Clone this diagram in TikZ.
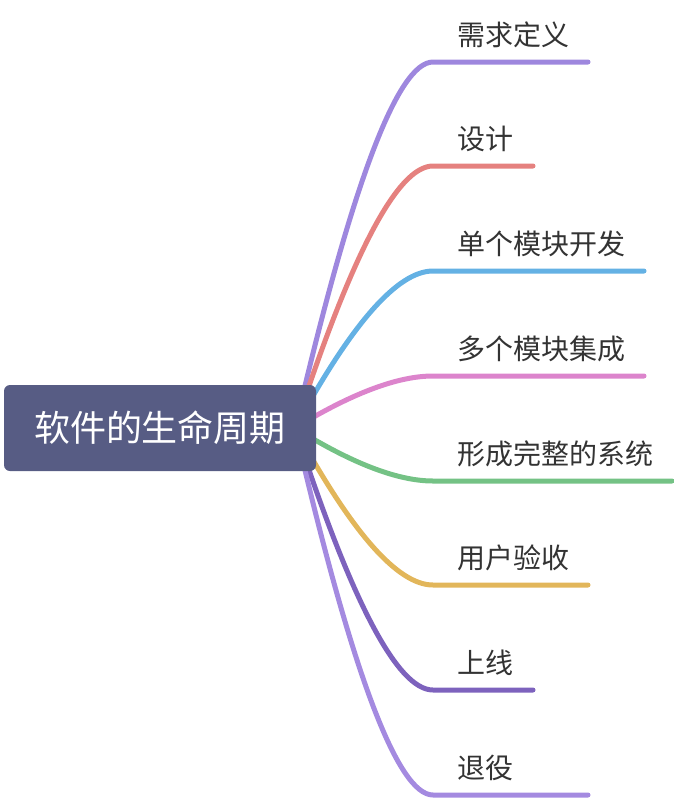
\documentclass[tikz,border=0pt]{standalone}
\usepackage{fontspec}
\newfontfamily\cjk{Noto Sans CJK SC}
\definecolor{cA}{HTML}{9E87DE}
\definecolor{cB}{HTML}{E5817F}
\definecolor{cC}{HTML}{64B1E4}
\definecolor{cD}{HTML}{DC84CC}
\definecolor{cE}{HTML}{74C285}
\definecolor{cF}{HTML}{E2B65A}
\definecolor{cG}{HTML}{7D62BD}
\definecolor{cH}{HTML}{A48AE0}
\definecolor{rootfill}{HTML}{575C84}
\definecolor{lbltext}{HTML}{333333}
\begin{document}
\begin{tikzpicture}[x=0.75pt,y=-0.75pt,
  branch/.style={line width=3.75pt,line cap=round},
  lbl/.style={anchor=west,inner sep=0pt,text=lbltext,font=\cjk\fontsize{21}{24}\selectfont},
  rootbox/.style={fill=rootfill,rounded corners=4.5pt,inner sep=0pt,minimum width=234pt,minimum height=64.5pt,text=white,font=\cjk\fontsize{27}{30}\selectfont}]
\useasboundingbox (0,0) rectangle (674,800);
\coordinate (hub) at (295,428);
\foreach \y/\xe/\col/\nm/\txt in {62/588/cA/b1/需求定义,166/533/cB/b2/设计,271/644/cC/b3/单个模块开发,376/644/cD/b4/多个模块集成,481/672/cE/b5/形成完整的系统,585/588/cF/b6/用户验收,690/533/cG/b7/上线,795/588/cH/b8/退役}{
  \coordinate (s\nm) at (433,\y);
  \coordinate (e\nm) at (\xe,\y);
  \draw[branch,\col] (hub) .. controls (351.7,{428+2/3*(\y-428)}) and (397.7,\y) .. (s\nm) -- (e\nm);
  \node[lbl] (\nm) at (457,\y-27.5) {\txt};
}
\node[rootbox] (root) at (160,428) {软件的生命周期};
\end{tikzpicture}
\end{document}
